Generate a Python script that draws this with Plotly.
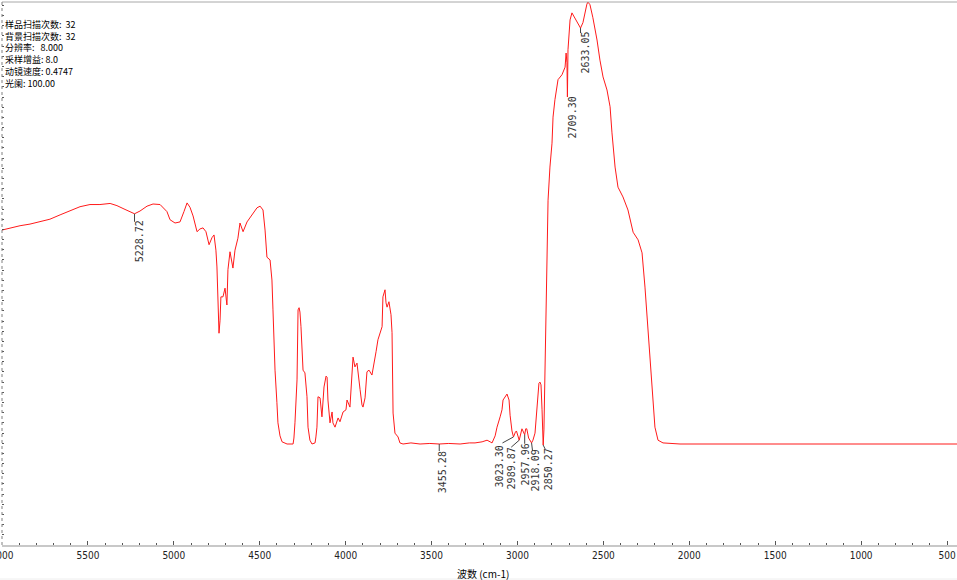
import plotly.graph_objects as go

# ---- spectrum data (wavenumber cm-1, transmittance-like %) ----
wavenumber = [
    6000, 5953, 5895, 5837, 5779, 5721, 5662, 5604, 5546, 5488, 5430, 5371, 5331, 5284,
    5228.72, 5197, 5156, 5121, 5080, 5040, 5022, 4993, 4964, 4941, 4923, 4906, 4888, 4865,
    4848, 4830, 4813, 4795, 4778, 4766, 4755, 4749, 4743, 4737, 4731, 4726, 4714, 4702,
    4691, 4685, 4673, 4656, 4644, 4627, 4615, 4597, 4574, 4545, 4516, 4498, 4481, 4469,
    4458, 4440, 4429, 4423, 4411, 4400, 4394, 4382, 4370, 4341, 4306, 4301, 4295, 4283,
    4277, 4271, 4266, 4260, 4254, 4248, 4237, 4225, 4219, 4208, 4196, 4178, 4173, 4167,
    4161, 4149, 4138, 4126, 4114, 4108, 4103, 4091, 4079, 4074, 4062, 4044, 4033, 4015,
    3998, 3992, 3975, 3963, 3957, 3946, 3934, 3916, 3905, 3899, 3887, 3876, 3864, 3847,
    3835, 3823, 3812, 3788, 3783, 3771, 3765, 3759, 3748, 3736, 3730, 3724, 3713, 3695,
    3684, 3666, 3620, 3567, 3510, 3455.28, 3400, 3334, 3280, 3247, 3206, 3177, 3159, 3148,
    3130, 3119, 3101, 3090, 3084, 3072, 3061, 3049, 3043, 3032, 3023.30, 3012, 3006,
    2989.87, 2979, 2974, 2957.96, 2952, 2946, 2935, 2918.09, 2910, 2898, 2887, 2881, 2875,
    2869, 2863, 2857, 2850.27, 2846, 2840, 2834, 2828, 2822, 2811, 2799, 2793, 2782, 2764,
    2741, 2723, 2717, 2712, 2709.30, 2706, 2700, 2694, 2683, 2665, 2648, 2633.05, 2619,
    2607, 2596, 2590, 2578, 2561, 2537, 2520, 2502, 2479, 2461, 2450, 2432, 2415, 2397,
    2386, 2357, 2327, 2298, 2275, 2258, 2240, 2217, 2200, 2182, 2153, 2054, 1800, 1500,
    1200, 850, 700, 520, 442,
]
transmittance = [
    58.0, 58.4, 58.8, 59.1, 59.5, 60.0, 60.8, 61.5, 62.3, 62.7, 62.7, 62.9, 62.5, 61.8,
    61.0, 61.5, 62.4, 62.8, 62.7, 61.4, 59.9, 59.3, 59.5, 61.4, 63.0, 62.2, 60.6, 57.7,
    58.2, 58.4, 57.7, 55.3, 56.6, 57.1, 54.3, 51.2, 43.3, 39.0, 41.4, 45.7, 45.7, 47.3,
    44.2, 50.7, 54.0, 51.0, 54.3, 56.5, 59.3, 57.7, 59.5, 60.8, 62.1, 62.4, 61.7, 58.0,
    53.0, 52.5, 48.8, 43.3, 32.2, 26.2, 22.5, 20.1, 19.0, 18.6, 18.6, 19.7, 22.5, 30.4,
    43.3, 43.7, 42.9, 40.2, 35.9, 32.2, 31.7, 27.3, 21.7, 19.3, 18.6, 18.8, 19.9, 21.7,
    27.3, 27.1, 23.6, 29.1, 31.1, 30.9, 26.7, 22.5, 24.5, 22.5, 21.7, 23.4, 22.7, 24.5,
    24.9, 26.7, 25.4, 31.3, 34.6, 32.8, 33.5, 28.6, 25.8, 25.4, 27.1, 31.9, 32.2, 31.3,
    33.2, 35.6, 37.8, 40.2, 45.7, 47.0, 44.6, 43.8, 44.8, 42.4, 39.1, 24.3, 20.6, 19.9,
    18.8, 18.6, 18.8, 18.6, 18.7, 18.6, 18.7, 18.6, 18.8, 18.8, 19.0, 19.3, 19.0, 18.8,
    20.1, 21.7, 23.6, 24.9, 26.7, 27.4, 27.8, 26.7, 23.9, 21.0, 19.9, 20.8, 21.0,
    19.3, 20.8, 21.4, 20.3, 21.4, 21.4, 19.7, 18.8, 19.3, 20.6, 24.9, 27.6, 29.8,
    30.0, 29.5, 24.9, 18.4, 21.2, 34.1, 45.1, 57.5, 63.5, 69.6, 74.0, 78.8, 82.0, 85.7,
    86.6, 88.0, 90.6, 88.8, 82.5, 91.2, 94.3, 96.7, 98.0, 97.0, 96.0, 95.2, 96.2,
    98.2, 99.6, 100.0, 99.5, 97.1, 93.0, 89.3, 86.2, 83.8, 80.7, 75.9, 69.6, 65.9, 64.8,
    64.1, 61.7, 57.6, 56.2, 53.8, 47.5, 39.0, 29.8, 21.7, 19.3, 18.8, 18.6, 18.6, 18.6,
    18.6, 18.7, 18.6, 18.7, 18.6,
]

peak_labels = ["5228.72", "3455.28", "3023.30", "2989.87", "2957.96",
               "2918.09", "2850.27", "2709.30", "2633.05"]
peak_wavenumbers = [5228.72, 3455.28, 3023.30, 2989.87, 2957.96,
                    2918.09, 2850.27, 2709.30, 2633.05]

info_lines = ["样品扫描次数:\u00a0\u00a032", "背景扫描次数:\u00a0\u00a032",
              "分辨率:\u00a0\u00a0\u00a08.000", "采样增益:\u00a08.0",
              "动镜速度:\u00a00.4747", "光阑:\u00a0100.00"]

x_title = "波数 (cm-1)"

# label placement (pixels): text-centre offset and leader end offset
label_dx = [5, 3, -14, -8, 1, 4, 5, 5, 5]
label_dy = [28, 28, 29, 28, 30, 28, 24, 20, 25]
leader_dx = [0, 0, -11, -8, 0, 1, 2, 0, 0]
leader_dy = [8, 7, 6, 7, 9, 8, 4, 0, 5]

W, H = 957, 580
ML, MR, MT, MB = 2, 0, 2, 35
X_RANGE = [6000, 442]
Y_RANGE = [0, 100]

fig = go.Figure()
fig.add_trace(go.Scatter(
    x=wavenumber, y=transmittance, mode="lines",
    line=dict(color="#ff1a1a", width=1), hoverinfo="skip", showlegend=False,
))

annotations = []
shapes = []
t_lookup = dict(zip(wavenumber, transmittance))
for lab, wn, dx, dy, lx, ly in zip(peak_labels, peak_wavenumbers, label_dx, label_dy,
                                   leader_dx, leader_dy):
    tv = t_lookup[wn]
    annotations.append(dict(
        x=wn, y=tv, xref="x", yref="y", text=lab, showarrow=False,
        textangle=-90, xanchor="center", yanchor="middle",
        xshift=dx, yshift=-dy,
        font=dict(family="DejaVu Sans Mono", size=10, color="#333333"),
    ))
    if lx != 0 or ly != 0:
        shapes.append(dict(
            type="line", xref="x", yref="y",
            xsizemode="pixel", ysizemode="pixel",
            xanchor=wn, yanchor=tv, x0=0, x1=lx, y0=0, y1=-ly,
            line=dict(color="#444444", width=1),
        ))

plot_h = H - MT - MB
annotations.append(dict(
    x=0.001, y=(H - MB - 16) / plot_h, xref="paper", yref="paper",
    text="<br>".join(info_lines), showarrow=False, xanchor="left", yanchor="top",
    align="left",
    font=dict(family="Noto Sans CJK SC", size=9, color="#000000"),
))

annotations.append(dict(
    x=(483 - ML) / (W - ML - MR), y=(H - MB - 573) / plot_h,
    xref="paper", yref="paper", text=x_title, showarrow=False,
    xanchor="center", yanchor="middle",
    font=dict(family="Noto Sans CJK SC", size=10, color="#000000"),
))

# frame lines
shapes.append(dict(type="line", xref="paper", yref="paper", x0=0, x1=1, y0=1, y1=1,
                   line=dict(color="#a8a8a8", width=1)))
shapes.append(dict(type="line", xref="paper", yref="paper", x0=0, x1=0, y0=0, y1=1,
                   line=dict(color="#808080", width=1, dash="dot")))
shapes.append(dict(type="line", xref="paper", yref="paper", x0=-0.01, x1=1,
                   y0=(H - MB - 579) / plot_h, y1=(H - MB - 579) / plot_h,
                   line=dict(color="#eeeeee", width=1)))

fig.update_layout(
    width=W, height=H,
    margin=dict(l=ML, r=MR, t=MT, b=MB, pad=0),
    paper_bgcolor="white", plot_bgcolor="white",
    showlegend=False,
    annotations=annotations, shapes=shapes,
    xaxis=dict(
        range=X_RANGE, showgrid=False, zeroline=False, automargin=False,
        showline=True, linecolor="#c8c8c8", linewidth=2,
        ticks="inside", ticklen=4, tickwidth=1, tickcolor="#555555",
        tick0=500, dtick=500, ticklabeloverflow="allow",
        minor=dict(ticks="inside", ticklen=2, tickwidth=1, tickcolor="#555555", dtick=100),
        tickfont=dict(family="Liberation Sans Narrow, DejaVu Sans Condensed, sans-serif",
                      size=10, color="#222222"),
    ),
    yaxis=dict(
        range=Y_RANGE, showgrid=False, zeroline=False, automargin=False,
        showline=False, showticklabels=False,
        ticks="inside", ticklen=2, tickwidth=1, tickcolor="#555555",
        tick0=0, dtick=1.875,
    ),
)

fig.write_html("out.html",
               config={"displayModeBar": False, "staticPlot": True},
               post_script="document.body.style.margin='0';document.body.style.overflow='hidden';")
